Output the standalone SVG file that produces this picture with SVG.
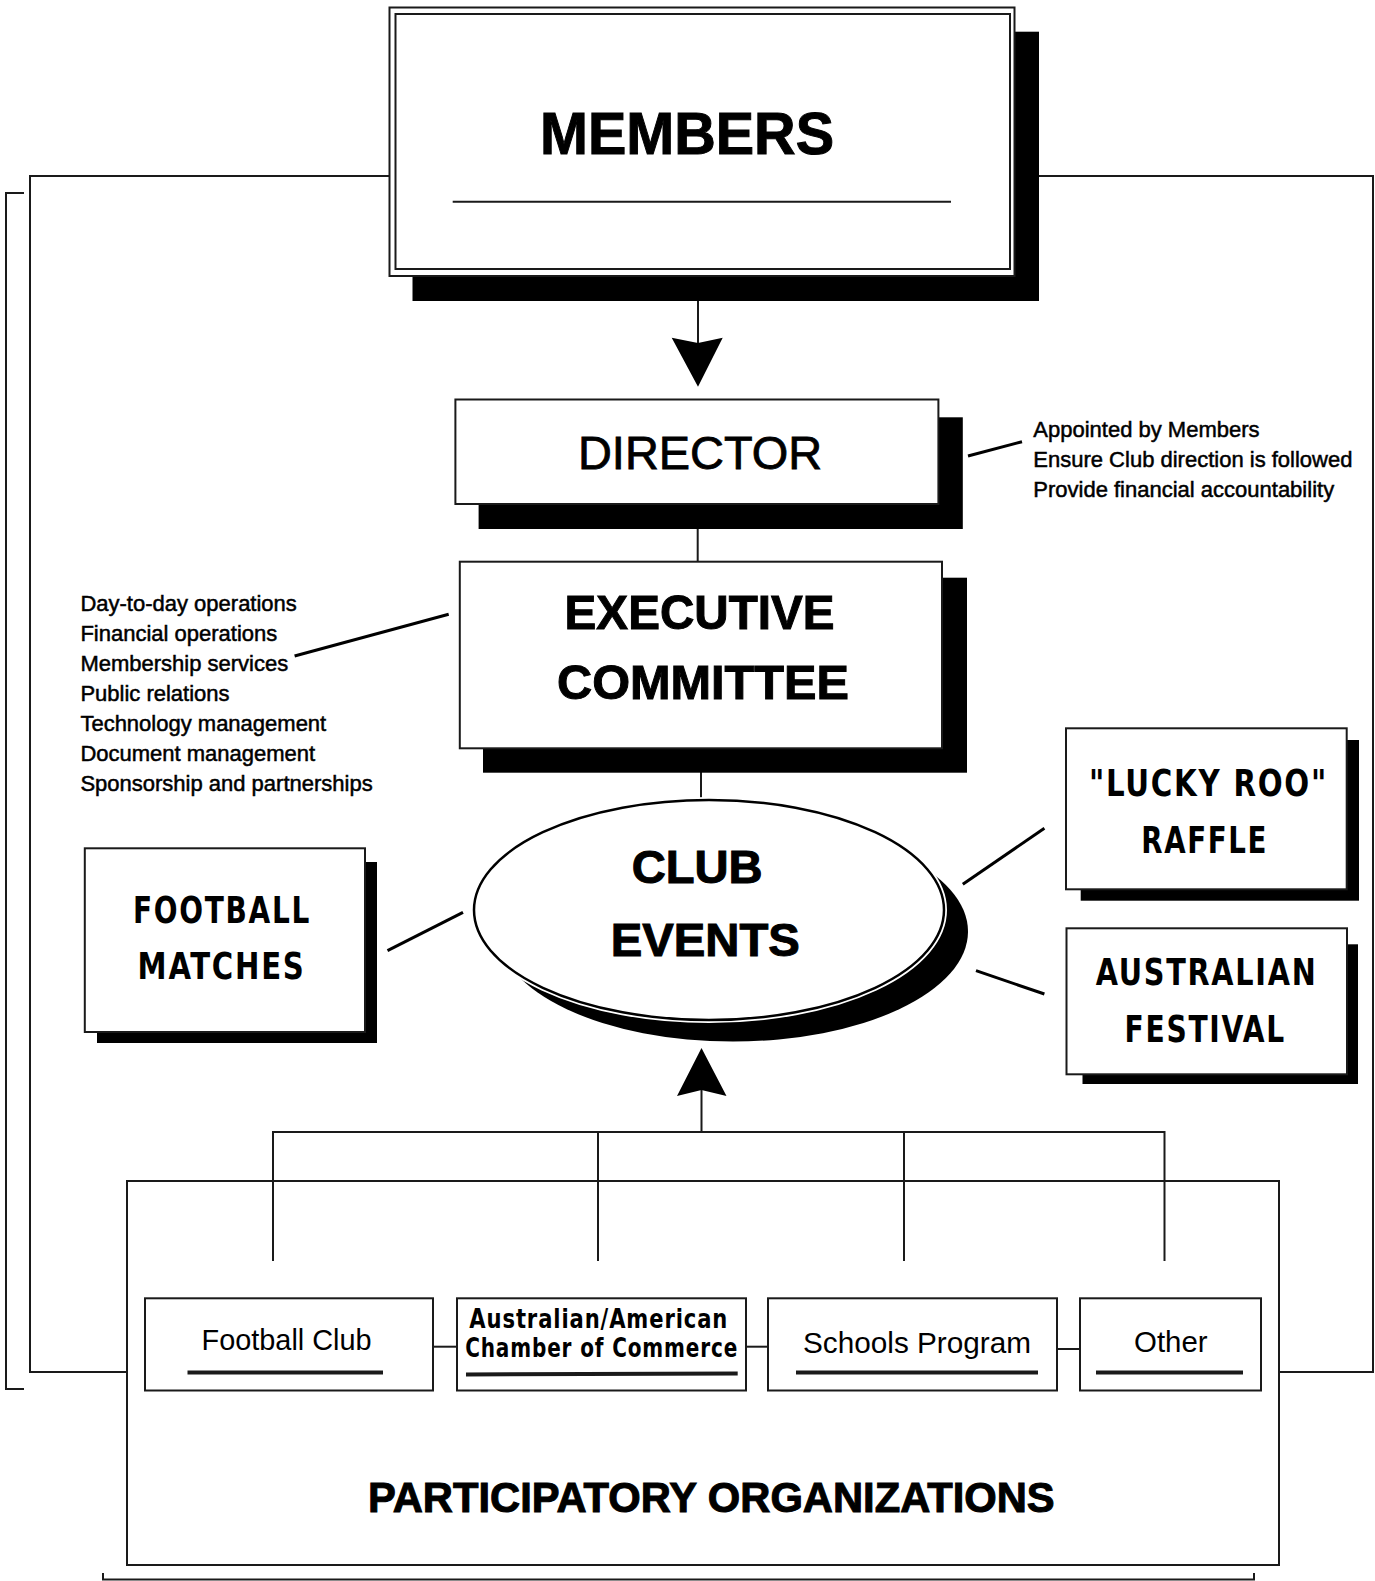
<svg xmlns="http://www.w3.org/2000/svg" width="1375" height="1581" viewBox="0 0 1375 1581">
<style>
.bg{fill:#fff}
.box{fill:#fff;stroke:#1a1a1a;stroke-width:2}
.frame{fill:none;stroke:#1a1a1a;stroke-width:2}
.shadow{fill:#000}
.ln{fill:none;stroke:#1a1a1a;stroke-width:2}
.ann{fill:none;stroke:#000;stroke-width:3}
.ul{fill:none;stroke:#1a1a1a;stroke-width:4}
.h{font-family:"Liberation Sans",Arial,sans-serif;font-weight:bold;fill:#000;stroke:#000;stroke-width:1;text-anchor:middle}
.r{font-family:"Liberation Sans",Arial,sans-serif;font-weight:normal;fill:#000;text-anchor:middle}
.c{font-family:"Liberation Sans Narrow","DejaVu Sans Condensed","Liberation Sans",sans-serif;font-stretch:condensed;font-weight:bold;fill:#000;text-anchor:middle}
.note{font-family:"Liberation Sans",Arial,sans-serif;font-size:22px;fill:#000;stroke:#000;stroke-width:0.5}
</style>
<rect class="bg" x="0" y="0" width="1375" height="1581"/>

<g id="connectors">
  <path class="ln" d="M390,176 H30 V1372 H127"/>
  <path class="ln" d="M1039,176 H1373 V1372 H1279"/>
  <path class="ln" d="M24,193 H6 V1389 H24"/>
  <path class="ln" d="M103,1573 V1579.5 H1254 V1573"/>
  <line class="ln" x1="698" y1="301" x2="698" y2="343"/>
  <polygon fill="#000" points="671.7,337.7 698,343 722.7,337.7 698,386.7"/>
  <line class="ln" x1="697.7" y1="529" x2="697.7" y2="562"/>
  <line class="ln" x1="701" y1="772" x2="701" y2="800"/>
  <path class="ln" d="M273,1261 V1132 H1164.5 V1261 M598,1132 V1261 M904,1132 V1261 M701.5,1132 V1088"/>
  <polygon fill="#000" points="701.5,1048 726.5,1096 701.5,1090 677,1096"/>
  <line class="ln" x1="433" y1="1346.7" x2="457" y2="1346.7"/>
  <line class="ln" x1="746" y1="1346.7" x2="768" y2="1346.7"/>
  <line class="ln" x1="1057" y1="1349" x2="1080" y2="1349"/>
  <line class="ann" x1="294.6" y1="656" x2="448.7" y2="614.3"/>
  <line class="ann" x1="968" y1="456" x2="1022" y2="441.7"/>
  <line class="ann" x1="387.5" y1="950.7" x2="463" y2="912.3"/>
  <line class="ann" x1="962.8" y1="884.3" x2="1044.4" y2="828.3"/>
  <line class="ann" x1="976" y1="970.7" x2="1044.4" y2="994"/>
</g>

<g id="members">
  <rect class="shadow" x="412.5" y="31.7" width="626.5" height="269.3"/>
  <rect class="box" x="389.5" y="7.5" width="625" height="268.5"/>
  <rect class="box" x="395.5" y="14" width="614.5" height="255"/>
  <text class="h" x="687" y="154" font-size="60" textLength="294" lengthAdjust="spacingAndGlyphs">MEMBERS</text>
  <line class="ln" x1="452.7" y1="201.7" x2="951" y2="201.7"/>
</g>

<g id="director">
  <rect class="shadow" x="478.6" y="417.3" width="484.2" height="111.7"/>
  <rect class="box" x="455.4" y="399.5" width="483" height="104.5"/>
  <text class="r" x="700" y="469" font-size="47" stroke="#000" stroke-width="0.8" textLength="244" lengthAdjust="spacingAndGlyphs">DIRECTOR</text>
</g>
<g id="director-notes">
  <text class="note" x="1033.3" y="437">Appointed by Members</text>
  <text class="note" x="1033.3" y="467">Ensure Club direction is followed</text>
  <text class="note" x="1033.3" y="497">Provide financial accountability</text>
</g>

<g id="executive">
  <rect class="shadow" x="483" y="577.7" width="484" height="195"/>
  <rect class="box" x="459.8" y="561.7" width="482.2" height="186.6"/>
  <text class="h" x="699.6" y="629.3" font-size="49" textLength="270" lengthAdjust="spacingAndGlyphs">EXECUTIVE</text>
  <text class="h" x="703" y="699.3" font-size="49" textLength="292" lengthAdjust="spacingAndGlyphs">COMMITTEE</text>
</g>
<g id="executive-notes">
  <text class="note" x="80.4" y="611">Day-to-day operations</text>
  <text class="note" x="80.4" y="641">Financial operations</text>
  <text class="note" x="80.4" y="671">Membership services</text>
  <text class="note" x="80.4" y="701">Public relations</text>
  <text class="note" x="80.4" y="731">Technology management</text>
  <text class="note" x="80.4" y="761">Document management</text>
  <text class="note" x="80.4" y="791">Sponsorship and partnerships</text>
</g>

<g id="club-events">
  <ellipse fill="#000" cx="733" cy="931.5" rx="235" ry="110"/>
  <ellipse fill="#fff" stroke="#fff" stroke-width="6" cx="709" cy="910" rx="235" ry="110"/>
  <ellipse fill="#fff" stroke="#000" stroke-width="2.5" cx="709" cy="910" rx="235" ry="110"/>
  <text class="h" x="697.2" y="883.3" font-size="46" textLength="131" lengthAdjust="spacingAndGlyphs">CLUB</text>
  <text class="h" x="705.3" y="955.7" font-size="46" textLength="189" lengthAdjust="spacingAndGlyphs">EVENTS</text>
</g>

<g id="football-matches">
  <rect class="shadow" x="97" y="862" width="280" height="181"/>
  <rect class="box" x="84.8" y="848.3" width="280.2" height="183.7"/>
  <text class="c" x="222" y="923.3" font-size="37" letter-spacing="2" textLength="178" lengthAdjust="spacingAndGlyphs">FOOTBALL</text>
  <text class="c" x="221.6" y="979.3" font-size="37" letter-spacing="2" textLength="168" lengthAdjust="spacingAndGlyphs">MATCHES</text>
</g>

<g id="lucky-roo">
  <rect class="shadow" x="1080.7" y="740" width="278.3" height="160.7"/>
  <rect class="box" x="1066" y="728.3" width="280.7" height="161"/>
  <text class="c" x="1208.5" y="796" font-size="37" letter-spacing="2" textLength="239" lengthAdjust="spacingAndGlyphs">"LUCKY ROO"</text>
  <text class="c" x="1204.7" y="853.3" font-size="37" letter-spacing="2" textLength="127" lengthAdjust="spacingAndGlyphs">RAFFLE</text>
</g>

<g id="australian-festival">
  <rect class="shadow" x="1082.5" y="944.3" width="275.5" height="139.7"/>
  <rect class="box" x="1066.5" y="928.3" width="280.5" height="146"/>
  <text class="c" x="1206.6" y="985" font-size="37" letter-spacing="2" textLength="221.6" lengthAdjust="spacingAndGlyphs">AUSTRALIAN</text>
  <text class="c" x="1205.3" y="1041.7" font-size="37" letter-spacing="2" textLength="161.4" lengthAdjust="spacingAndGlyphs">FESTIVAL</text>
</g>

<g id="participatory-organizations">
  <rect class="frame" x="127" y="1181" width="1152" height="384"/>
  <text class="h" x="711.3" y="1511.7" font-size="42" textLength="686.6" lengthAdjust="spacingAndGlyphs">PARTICIPATORY ORGANIZATIONS</text>
</g>

<g id="football-club">
  <rect class="box" x="145" y="1298.3" width="288" height="92.2"/>
  <text class="r" x="286.6" y="1350" font-size="29" textLength="170" lengthAdjust="spacingAndGlyphs">Football Club</text>
  <line class="ul" x1="187.5" y1="1372.5" x2="383" y2="1372.5"/>
</g>

<g id="chamber-of-commerce">
  <rect class="box" x="457" y="1298.3" width="289" height="92.2"/>
  <text class="c" x="598.8" y="1328" font-size="26" letter-spacing="1" textLength="259" lengthAdjust="spacingAndGlyphs">Australian/American</text>
  <text class="c" x="601.7" y="1357" font-size="26" letter-spacing="1" textLength="273" lengthAdjust="spacingAndGlyphs">Chamber of Commerce</text>
  <line class="ul" x1="466" y1="1374.5" x2="737.7" y2="1373.5"/>
</g>

<g id="schools-program">
  <rect class="box" x="768" y="1298.3" width="289" height="92.2"/>
  <text class="r" x="917" y="1353" font-size="30" textLength="228" lengthAdjust="spacingAndGlyphs">Schools Program</text>
  <line class="ul" x1="796" y1="1372.5" x2="1038" y2="1372.5"/>
</g>

<g id="other">
  <rect class="box" x="1080" y="1298.3" width="181" height="92.2"/>
  <text class="r" x="1170.8" y="1352" font-size="29" textLength="73.5" lengthAdjust="spacingAndGlyphs">Other</text>
  <line class="ul" x1="1096" y1="1372.5" x2="1243" y2="1372.5"/>
</g>
</svg>
